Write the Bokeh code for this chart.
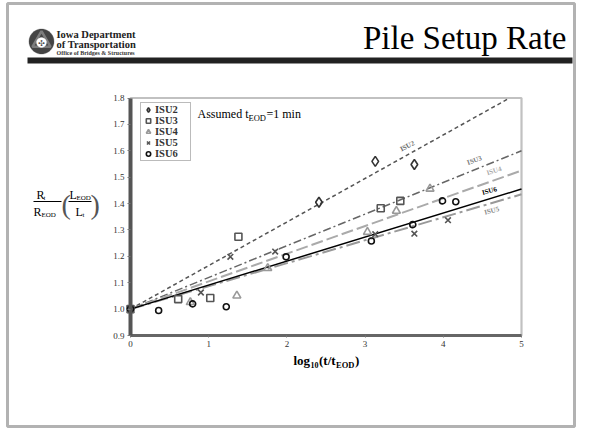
import math
from bokeh.plotting import figure
from bokeh.models import (Label, BoxAnnotation, PolyAnnotation, Legend, LegendItem, LinearAxis,
                          FixedTicker, PrintfTickFormatter, Range1d, ColumnDataSource)
from bokeh.embed import file_html
from bokeh.resources import INLINE

# ---------------- data ----------------
series = ["ISU2", "ISU3", "ISU4", "ISU5", "ISU6"]
isu2_x = [0, 2.41, 3.13, 3.63]
isu2_y = [1.0, 1.405, 1.56, 1.548]
isu3_x = [0, 0.61, 1.02, 1.38, 3.20, 3.45]
isu3_y = [1.0, 1.038, 1.042, 1.274, 1.382, 1.41]
isu4_x = [0, 0.765, 1.36, 1.755, 3.03, 3.40, 3.83]
isu4_y = [1.0, 1.026, 1.051, 1.155, 1.292, 1.372, 1.456]
isu5_x = [0, 0.90, 1.277, 1.85, 3.13, 3.63, 4.06]
isu5_y = [1.0, 1.063, 1.198, 1.218, 1.284, 1.286, 1.337]
isu6_x = [0, 0.36, 0.795, 1.225, 1.99, 3.08, 3.61, 3.99, 4.16]
isu6_y = [1.0, 0.995, 1.02, 1.009, 1.198, 1.258, 1.32, 1.41, 1.407]
# fitted trend lines: R = 1 + slope * log10(t/tEOD)
trend_slopes = [0.165, 0.12, 0.105, 0.087, 0.091]
# trend-line label positions
tl_x = [3.54, 4.40, 4.65, 4.62, 4.59]
tl_y = [1.617, 1.563, 1.523, 1.372, 1.447]
x_ticks = [0, 1, 2, 3, 4, 5]
y_ticks = [0.9, 1.0, 1.1, 1.2, 1.3, 1.4, 1.5, 1.6, 1.7, 1.8]
X0, X1 = 0, 5
Y0, Y1 = 0.9, 1.8

xs_all = [isu2_x, isu3_x, isu4_x, isu5_x, isu6_x]
ys_all = [isu2_y, isu3_y, isu4_y, isu5_y, isu6_y]

# ---------------- styles / layout ----------------
markers = ["diamond", "square", "triangle", "x", "circle"]
msizes = [10, 7, 8, 8, 6]
mcolors = ["#333333", "#555555", "#999999", "#555555", "#111111"]
lcolors = ["#555555", "#666666", "#aaaaaa", "#999999", "#000000"]
ldash = ["4 3", "8 3 2 3", "12 4", "14 4 3 4", "solid"]
lwidth = [1.5, 1.5, 2, 2, 1.5]
tlcolors = ["#666666", "#777777", "#aaaaaa", "#888888", "#000000"]
SERIF = "Liberation Serif"

W, H = 576, 428
# plot frame position on the canvas (pixels)
PL, PR, PT, PB = 130, 521, 97.5, 335
kxp = (PR - PL) / (X1 - X0)
kyp = (PB - PT) / (Y1 - Y0)
xr = Range1d(X0 - PL / kxp, X1 + (W - PR) / kxp)
yr = Range1d(Y0 - (H - PB) / kyp, Y1 + PT / kyp)


def sx(px):
    return px


def sy(py):
    return H - py


p = figure(width=W, height=H, x_range=xr, y_range=yr,
           x_axis_location=None, y_axis_location=None,
           output_backend="svg", toolbar_location=None, min_border=0)
p.min_border_left = p.min_border_right = p.min_border_top = p.min_border_bottom = 0
for g in p.grid:
    g.visible = False
p.outline_line_color = None
p.background_fill_color = "white"
p.border_fill_color = "white"

# plot-area frame
p.add_layout(BoxAnnotation(left=X0, right=X1, bottom=Y0, top=Y1, fill_alpha=0,
                           line_color="#333333", line_width=2.2, level="underlay"))


def style_axis(ax):
    ax.major_label_text_font = SERIF
    ax.major_label_text_color = "#333333"
    ax.major_label_text_font_size = "9px"
    ax.minor_tick_line_color = None
    ax.major_tick_in = 0
    ax.major_tick_line_color = "#777777"


yax = LinearAxis(fixed_location=X0, bounds=(Y0, Y1), ticker=FixedTicker(ticks=y_ticks),
                 formatter=PrintfTickFormatter(format="%.1f"))
style_axis(yax)
yax.axis_line_width = 4
yax.axis_line_color = "#555555"
yax.major_tick_out = 3
yax.major_label_standoff = 3
p.add_layout(yax, "left")

xax = LinearAxis(fixed_location=Y0, bounds=(X0, X1), ticker=FixedTicker(ticks=x_ticks),
                 formatter=PrintfTickFormatter(format="%d"))
style_axis(xax)
xax.axis_line_width = 3
xax.axis_line_color = "#666666"
xax.major_tick_out = 2
xax.major_label_standoff = 3
p.add_layout(xax, "below")

# trend lines (stopped at the plot frame)
for i in range(5):
    x_end = min(X1, (Y1 - 1) / trend_slopes[i])
    tx = [X0, x_end]
    ty = [1 + trend_slopes[i] * x for x in tx]
    p.line(tx, ty, line_color=lcolors[i], line_dash=ldash[i], line_width=lwidth[i])

# points
items = []
for i in range(5):
    src = ColumnDataSource(dict(x=xs_all[i], y=ys_all[i]))
    r = p.scatter("x", "y", source=src, marker=markers[i], size=msizes[i],
                  fill_color=None, line_color=mcolors[i], line_width=1.6)
    items.append(LegendItem(label=series[i], renderers=[r]))

# trend line labels
for i in range(5):
    ang = math.atan(trend_slopes[i] * kyp / kxp) * 0.9
    p.add_layout(Label(x=tl_x[i], y=tl_y[i], text=series[i], angle=ang,
                       text_font=SERIF, text_font_style="bold", text_font_size="7px",
                       text_color=tlcolors[i], text_align="center", text_baseline="middle"))

legend = Legend(items=items, location=(140, sy(161)), orientation="vertical",
                label_text_font=SERIF, label_text_font_style="bold",
                label_text_font_size="10.5px", label_text_color="#333333",
                glyph_width=12, glyph_height=11, label_height=11, label_standoff=1,
                label_width=34, spacing=0, padding=1, margin=0,
                border_line_color="#777777", border_line_width=1,
                background_fill_color="white", background_fill_alpha=1)
p.add_layout(legend)

BASE_SHIFT = 0.3   # compensates the rendered baseline offset (in em)


def lab(text, px, py, size, bold=False, align="left", color="#000000", font=SERIF):
    p.add_layout(Label(x=sx(px), y=sy(py - BASE_SHIFT * size), x_units="screen", y_units="screen",
                       text=text, text_font=font, text_font_size=f"{size}px",
                       text_font_style="bold" if bold else "normal",
                       text_color=color, text_align=align, text_baseline="alphabetic"))


def sbox(l, r, t, b, color, alpha=1.0, line_color=None, line_width=1):
    p.add_layout(BoxAnnotation(left=sx(l), right=sx(r), top=sy(t), bottom=sy(b),
                               left_units="screen", right_units="screen", top_units="screen",
                               bottom_units="screen", fill_color=color, fill_alpha=alpha,
                               line_color=line_color, line_width=line_width))


# "Assumed tEOD=1 min"
lab("Assumed t", 197, 117, 12)
lab("EOD", 248, 120, 8.5)
lab("=1 min", 266, 117, 12)

# x-axis title
lab("log", 293, 364, 13, bold=True)
lab("10", 310, 367, 8, bold=True)
lab("(t/t", 318.5, 364, 13, bold=True)
lab("EOD", 335.5, 367, 8.5, bold=True)
lab(")", 354.5, 364, 13, bold=True)

# y-axis title: R_t/R_EOD (L_EOD/L_t)
lab("R", 36, 198, 12)
lab("t", 43, 200, 7)
lab("R", 33, 215, 12)
lab("EOD", 41, 217, 7)
lab("L", 69, 198, 12)
lab("EOD", 76, 200, 7)
lab("L", 75, 215, 12)
lab("t", 82, 217, 7)
lab("(", 61, 212, 28, color="#555555")
lab(")", 90, 212, 28, color="#555555")
sbox(33, 61, 200.5, 201.5, "black")
sbox(68, 91, 200.5, 201.5, "black")

# header
lab("Pile Setup Rate", 566, 47, 33, align="right")
sbox(27, 572, 57, 63, "#222222")
lab("Iowa Department", 56, 37, 10.5, bold=True, color="#222222")
lab("of Transportation", 56, 47.5, 10.5, bold=True, color="#222222")
lab("Office of Bridges & Structures", 56, 54.5, 6, bold=True, color="#333333")

# logo emblem
cx, cy, rr = 41, 41, 12.5
circ = [(cx + rr * math.cos(2 * math.pi * k / 48), cy + rr * math.sin(2 * math.pi * k / 48)) for k in range(48)]
p.add_layout(PolyAnnotation(xs=[sx(a) for a, b in circ], ys=[sy(b) for a, b in circ],
                            xs_units="screen", ys_units="screen",
                            fill_color="#444444", fill_alpha=1, line_color="#444444"))
tri = []
for k in range(3):
    a = -math.pi / 2 + 2 * math.pi * k / 3
    tri.append((cx + 10.5 * math.cos(a), cy + 10.5 * math.sin(a)))
p.add_layout(PolyAnnotation(xs=[sx(a) for a, b in tri], ys=[sy(b) for a, b in tri],
                            xs_units="screen", ys_units="screen",
                            fill_alpha=0, line_color="white", line_width=2.5))
inner = [(cx + 5 * math.cos(2 * math.pi * k / 24), cy + 1 + 5 * math.sin(2 * math.pi * k / 24)) for k in range(24)]
p.add_layout(PolyAnnotation(xs=[sx(a) for a, b in inner], ys=[sy(b) for a, b in inner],
                            xs_units="screen", ys_units="screen",
                            fill_color="white", fill_alpha=1, line_color="white"))
lab("✣", cx, cy + 4, 8, color="#444444", align="center", font="DejaVu Sans")

# slide frame
sbox(7, W - 2, 3, H - 2, None, alpha=0, line_color="black", line_width=3)

open("out.html", "w").write(file_html(p, INLINE))
